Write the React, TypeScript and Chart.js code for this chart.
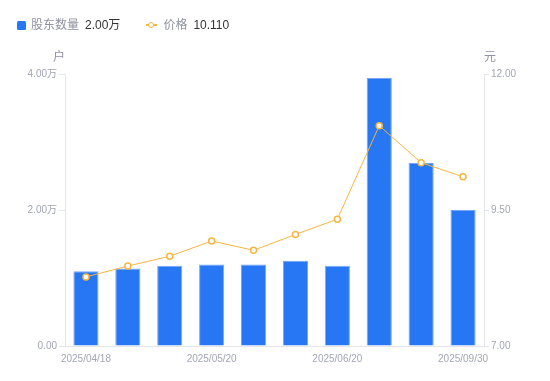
import React, { useEffect, useRef } from "react";
import { Chart, registerables } from "chart.js";

Chart.register(...registerables);

const categories = [
  "2025/04/18",
  "2025/04/30",
  "2025/05/10",
  "2025/05/20",
  "2025/05/31",
  "2025/06/10",
  "2025/06/20",
  "2025/06/30",
  "2025/08/31",
  "2025/09/30",
];
const holders = [11000, 11400, 11800, 12000, 12000, 12550, 11800, 39400, 26900, 20000];
const prices = [8.27, 8.47, 8.65, 8.93, 8.76, 9.05, 9.33, 11.05, 10.37, 10.11];
const leftTicks = [0, 20000, 40000];
const rightTicks = [7, 9.5, 12];

const FONT = "'Liberation Sans', Arial, 'Noto Sans CJK SC', sans-serif";
const TICK_COLOR = "#a3a6b4";
const AXIS_COLOR = "#e4e5ea";
const BAR_COLOR = "#2777f5";
const LINE_COLOR = "#f7b541";

const fmtWan = (v: number) => (v === 0 ? "0.00" : (v / 10000).toFixed(2) + "万");

export default function App() {
  const ref = useRef<HTMLCanvasElement | null>(null);

  useEffect(() => {
    document.body.style.margin = "0";
    const titlePlugin = {
      id: "axisTitles",
      afterDraw(chart: any) {
        const ctx = chart.ctx;
        const yl = chart.scales.y;
        const yr = chart.scales.y1;
        ctx.save();
        ctx.font = `12px ${FONT}`;
        ctx.fillStyle = "#8f92a0";
        ctx.textBaseline = "middle";
        ctx.textAlign = "center";
        ctx.fillText("户", yl.right - 6, yl.top - 16);
        ctx.fillText("元", yr.left + 6, yr.top - 16);
        ctx.restore();
      },
    };
    const chart = new Chart(ref.current as HTMLCanvasElement, {
      type: "bar",
      data: {
        labels: categories,
        datasets: [
          {
            type: "line",
            label: "价格",
            data: prices,
            yAxisID: "y1",
            borderColor: LINE_COLOR,
            borderWidth: 1,
            pointRadius: 3,
            pointBorderWidth: 1.5,
            pointBackgroundColor: "#ffffff",
            pointBorderColor: LINE_COLOR,
            tension: 0,
            order: 0,
          } as any,
          {
            type: "bar",
            label: "股东数量",
            data: holders,
            yAxisID: "y",
            backgroundColor: BAR_COLOR,
            borderColor: "#74a6f8",
            borderWidth: 1,
            categoryPercentage: 0.6,
            barPercentage: 1,
            order: 1,
          },
        ],
      },
      options: {
        responsive: false,
        animation: false,
        maintainAspectRatio: false,
        layout: { padding: { top: 74, left: 0, right: 0, bottom: 0 } },
        plugins: {
          legend: { display: false },
          tooltip: { enabled: false },
        },
        scales: {
          x: {
            grid: { display: false, drawTicks: false },
            border: { display: true, color: AXIS_COLOR },
            ticks: {
              autoSkip: false,
              maxRotation: 0,
              padding: 7,
              color: TICK_COLOR,
              font: { size: 10, family: FONT },
              callback: (_v: any, i: number) => (i % 3 === 0 ? categories[i] : ""),
            },
            afterFit: (s: any) => {
              s.height = 35;
            },
          },
          y: {
            position: "left",
            min: 0,
            max: 40000,
            afterBuildTicks: (s: any) => {
              s.ticks = leftTicks.map((v) => ({ value: v }));
            },
            grid: {
              drawOnChartArea: false,
              drawTicks: true,
              tickLength: 6,
              color: AXIS_COLOR,
            },
            border: { display: true, color: AXIS_COLOR },
            ticks: {
              padding: 2,
              color: TICK_COLOR,
              font: { size: 10, family: FONT },
              callback: (v: any) => fmtWan(Number(v)),
            },
            afterFit: (s: any) => {
              s.width = 65;
            },
          },
          y1: {
            position: "right",
            min: 7,
            max: 12,
            afterBuildTicks: (s: any) => {
              s.ticks = rightTicks.map((v) => ({ value: v }));
            },
            grid: {
              drawOnChartArea: false,
              drawTicks: true,
              tickLength: 5,
              color: AXIS_COLOR,
            },
            border: { display: true, color: AXIS_COLOR },
            ticks: {
              padding: 2,
              color: TICK_COLOR,
              font: { size: 10, family: FONT },
              callback: (v: any) => Number(v).toFixed(2),
            },
            afterFit: (s: any) => {
              s.width = 66;
            },
          },
        },
      } as any,
      plugins: [titlePlugin],
    });
    return () => chart.destroy();
  }, []);

  return (
    <div style={{ position: "relative", width: 550, height: 381, fontFamily: FONT }}>
      <canvas ref={ref} width={550} height={381} style={{ position: "absolute", left: 0, top: 0 }} />
      <div
        style={{
          position: "absolute",
          left: 17,
          top: 17,
          display: "flex",
          alignItems: "center",
          fontSize: 12,
          lineHeight: "16px",
          whiteSpace: "nowrap",
        }}
      >
        <span style={{ width: 9, height: 9, background: BAR_COLOR, borderRadius: 1.5, display: "inline-block" }} />
        <span style={{ color: "#8f92a0", marginLeft: 5 }}>股东数量</span>
        <span style={{ color: "#333333", marginLeft: 6 }}>{fmtWan(holders[holders.length - 1])}</span>
        <span style={{ position: "relative", width: 11, height: 10, marginLeft: 26, display: "inline-block" }}>
          <span style={{ position: "absolute", left: 0, top: 4, width: 11, height: 2, background: LINE_COLOR }} />
          <span
            style={{
              position: "absolute",
              left: 2,
              top: 1.5,
              width: 4,
              height: 4,
              border: `1.5px solid ${LINE_COLOR}`,
              borderRadius: "50%",
              background: "#fff",
            }}
          />
        </span>
        <span style={{ color: "#8f92a0", marginLeft: 6 }}>价格</span>
        <span style={{ color: "#333333", marginLeft: 6 }}>{prices[prices.length - 1].toFixed(3)}</span>
      </div>
    </div>
  );
}
